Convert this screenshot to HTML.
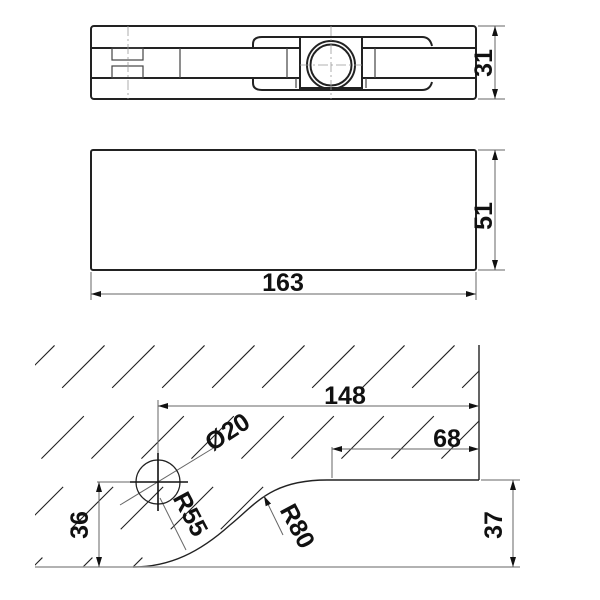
<!DOCTYPE html>
<html><head><style>
html,body{margin:0;padding:0;background:#fff}
svg{display:block}
text{font-family:"Liberation Sans",sans-serif;font-weight:bold;fill:#111}
</style></head><body>
<svg width="600" height="600" viewBox="0 0 600 600" xmlns="http://www.w3.org/2000/svg">
<defs>
<marker id="a" viewBox="0 0 10 6" refX="10" refY="3" markerWidth="10" markerHeight="6" orient="auto-start-reverse" markerUnits="userSpaceOnUse"><path d="M0,0 L10,3 L0,6 Z" fill="#111"/></marker>
<clipPath id="hc"><path d="M35,345 L479,345 L479,480 L327,480 C270,480 255,505 230,525 C200,552 170,567 133,567 L35,567 Z"/></clipPath>
</defs>
<g fill="none" stroke="#222" stroke-width="2">
<rect x="91" y="26" width="385" height="73" rx="3"/>
<line x1="91" y1="48" x2="476" y2="48"/>
<line x1="91" y1="78" x2="476" y2="78"/>
<path d="M253,48 L253,44 Q253,37 262,37 L422,37 Q430,37 432,46" />
<path d="M253,78 L253,83 Q253,90 262,90 L422,90 Q430,90 432,82" />
<rect x="300" y="37" width="62" height="51" fill="#fff"/>
<circle cx="331" cy="65" r="24"/>
<circle cx="331" cy="65" r="20.5"/>
</g>
<g fill="none" stroke="#444" stroke-width="1.2">
<rect x="112" y="48" width="31" height="12"/>
<rect x="112" y="66" width="31" height="12"/>
<line x1="180" y1="48" x2="180" y2="78"/>
<line x1="287" y1="48" x2="287" y2="78"/>
<line x1="375" y1="48" x2="375" y2="78"/>
<line x1="296" y1="78" x2="296" y2="88"/>
<line x1="366" y1="78" x2="366" y2="88"/>
</g>
<g stroke="#999" stroke-width="0.8" stroke-dasharray="10 3 2 3">
<line x1="128" y1="26" x2="128" y2="99"/>
<line x1="331" y1="26" x2="331" y2="99"/>
<line x1="300" y1="65" x2="362" y2="65"/>
</g>
<g stroke="#666" stroke-width="1">
<line x1="478" y1="26" x2="505" y2="26"/>
<line x1="478" y1="99" x2="505" y2="99"/>
<line x1="495" y1="26" x2="495" y2="99" marker-start="url(#a)" marker-end="url(#a)"/>
</g>
<text transform="translate(492,63) rotate(-90)" font-size="25" text-anchor="middle">31</text>

<rect x="91" y="150" width="385" height="120" rx="2" fill="none" stroke="#222" stroke-width="2"/>
<g stroke="#666" stroke-width="1">
<line x1="478" y1="150" x2="505" y2="150"/>
<line x1="478" y1="270" x2="505" y2="270"/>
<line x1="495" y1="150" x2="495" y2="270" marker-start="url(#a)" marker-end="url(#a)"/>
<line x1="91" y1="272" x2="91" y2="300"/>
<line x1="476" y1="272" x2="476" y2="300"/>
<line x1="91" y1="294" x2="476" y2="294" marker-start="url(#a)" marker-end="url(#a)"/>
</g>
<text transform="translate(492,216) rotate(-90)" font-size="25" text-anchor="middle">51</text>
<text x="283" y="291" font-size="25" text-anchor="middle">163</text>

<g clip-path="url(#hc)" stroke="#222" stroke-width="1.1" stroke-dasharray="60 40">
<line x1="-200" y1="600" x2="100" y2="300"/>
<line x1="-150" y1="600" x2="150" y2="300"/>
<line x1="-100" y1="600" x2="200" y2="300"/>
<line x1="-50" y1="600" x2="250" y2="300"/>
<line x1="0" y1="600" x2="300" y2="300"/>
<line x1="50" y1="600" x2="350" y2="300"/>
<line x1="100" y1="600" x2="400" y2="300"/>
<line x1="150" y1="600" x2="450" y2="300"/>
<line x1="200" y1="600" x2="500" y2="300"/>
<line x1="250" y1="600" x2="550" y2="300"/>
<line x1="300" y1="600" x2="600" y2="300"/>
<line x1="350" y1="600" x2="650" y2="300"/>
<line x1="400" y1="600" x2="700" y2="300"/>
</g>
<g fill="none" stroke="#222" stroke-width="1.4">
<line x1="479" y1="345" x2="479" y2="480"/>
<line x1="327" y1="480" x2="479" y2="480"/>
<path d="M327,480 C270,480 255,505 230,525 C200,552 170,567 133,567"/>
</g>
<line x1="35" y1="567" x2="520" y2="567" stroke="#999" stroke-width="1.6"/>
<g stroke="#666" stroke-width="1" fill="none">
<line x1="158" y1="400" x2="158" y2="458"/>
<line x1="158" y1="406" x2="479" y2="406" marker-start="url(#a)" marker-end="url(#a)"/>
<line x1="332" y1="447" x2="332" y2="478"/>
<line x1="332" y1="449" x2="479" y2="449" marker-start="url(#a)" marker-end="url(#a)"/>
<line x1="97" y1="482" x2="140" y2="482"/>
<line x1="99" y1="482" x2="99" y2="567" marker-start="url(#a)" marker-end="url(#a)"/>
<line x1="481" y1="480" x2="520" y2="480"/>
<line x1="513" y1="480" x2="513" y2="567" marker-start="url(#a)" marker-end="url(#a)"/>
<line x1="120" y1="505" x2="220" y2="444"/>
<line x1="160" y1="498" x2="186" y2="550"/>
<line x1="264" y1="496" x2="283" y2="535" marker-start="url(#a)"/>
<circle cx="158" cy="482" r="22" stroke="#222" stroke-width="1.2"/>
</g>
<g stroke="#111" stroke-width="1.6">
<line x1="130" y1="482" x2="188" y2="482"/>
<line x1="158" y1="453" x2="158" y2="511"/>
</g>
<text x="345" y="404" font-size="25" text-anchor="middle">148</text>
<text x="447" y="447" font-size="25" text-anchor="middle">68</text>
<text transform="translate(232,439) rotate(-33)" font-size="25" text-anchor="middle">Ø20</text>
<text transform="translate(88,525) rotate(-90)" font-size="25" text-anchor="middle">36</text>
<text transform="translate(502,525) rotate(-90)" font-size="25" text-anchor="middle">37</text>
<text transform="translate(183,518) rotate(62)" font-size="25" text-anchor="middle">R55</text>
<text transform="translate(290,530) rotate(62)" font-size="25" text-anchor="middle">R80</text>
</svg>
</body></html>
